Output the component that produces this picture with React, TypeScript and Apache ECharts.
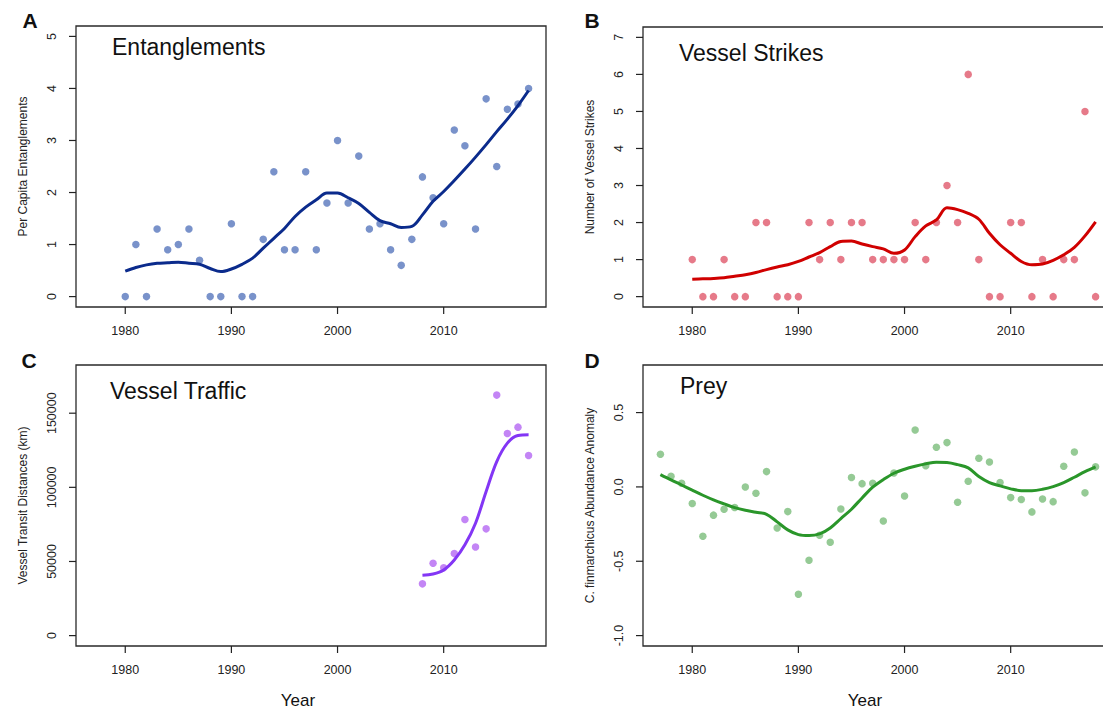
import React, { useEffect, useRef } from "react";
import * as echarts from "echarts";

// ---------- data ----------
const yearsMain = [1980, 1981, 1982, 1983, 1984, 1985, 1986, 1987, 1988, 1989, 1990, 1991, 1992, 1993, 1994, 1995, 1996, 1997, 1998, 1999, 2000, 2001, 2002, 2003, 2004, 2005, 2006, 2007, 2008, 2009, 2010, 2011, 2012, 2013, 2014, 2015, 2016, 2017, 2018];
const entanglements = [0, 1, 0, 1.3, 0.9, 1.0, 1.3, 0.7, 0, 0, 1.4, 0, 0, 1.1, 2.4, 0.9, 0.9, 2.4, 0.9, 1.8, 3.0, 1.8, 2.7, 1.3, 1.4, 0.9, 0.6, 1.1, 2.3, 1.9, 1.4, 3.2, 2.9, 1.3, 3.8, 2.5, 3.6, 3.7, 4.0];
const entanglementsTrend = [0.49, 0.56, 0.61, 0.64, 0.65, 0.66, 0.64, 0.62, 0.54, 0.48, 0.53, 0.62, 0.74, 0.93, 1.12, 1.31, 1.54, 1.72, 1.86, 1.99, 1.99, 1.9, 1.79, 1.62, 1.46, 1.4, 1.33, 1.35, 1.57, 1.83, 2.02, 2.23, 2.45, 2.68, 2.92, 3.17, 3.41, 3.67, 3.96];
const strikes = [1, 0, 0, 1, 0, 0, 2, 2, 0, 0, 0, 2, 1, 2, 1, 2, 2, 1, 1, 1, 1, 2, 1, 2, 3, 2, 6, 1, 0, 0, 2, 2, 0, 1, 0, 1, 1, 5, 0];
const strikesTrend = [0.47, 0.48, 0.49, 0.51, 0.55, 0.59, 0.65, 0.73, 0.8, 0.86, 0.95, 1.07, 1.19, 1.35, 1.49, 1.5, 1.42, 1.35, 1.29, 1.17, 1.26, 1.62, 1.91, 2.07, 2.4, 2.35, 2.25, 2.09, 1.71, 1.4, 1.17, 0.95, 0.86, 0.88, 0.98, 1.13, 1.33, 1.64, 2.02];

const yearsTraffic = [2008, 2009, 2010, 2011, 2012, 2013, 2014, 2015, 2016, 2017, 2018];
const traffic = [34900, 48800, 45700, 55300, 78300, 59800, 72000, 162200, 136300, 140600, 121500];
const trafficTrend = [40700, 41600, 44300, 51000, 61200, 75800, 97200, 117400, 129800, 134900, 135400];

const yearsPrey = [1977, 1978, 1979, 1980, 1981, 1982, 1983, 1984, 1985, 1986, 1987, 1988, 1989, 1990, 1991, 1992, 1993, 1994, 1995, 1996, 1997, 1998, 1999, 2000, 2001, 2002, 2003, 2004, 2005, 2006, 2007, 2008, 2009, 2010, 2011, 2012, 2013, 2014, 2015, 2016, 2017, 2018];
const prey = [0.22, 0.072, 0.025, -0.112, -0.332, -0.19, -0.15, -0.139, 0.0, -0.043, 0.103, -0.276, -0.166, -0.722, -0.493, -0.325, -0.372, -0.148, 0.063, 0.022, 0.025, -0.229, 0.094, -0.061, 0.383, 0.143, 0.267, 0.298, -0.103, 0.038, 0.193, 0.168, 0.029, -0.072, -0.085, -0.168, -0.081, -0.099, 0.139, 0.235, -0.04, 0.135];
const preyTrend = [0.083, 0.047, 0.013, -0.022, -0.056, -0.087, -0.114, -0.139, -0.157, -0.17, -0.184, -0.235, -0.289, -0.321, -0.327, -0.316, -0.276, -0.213, -0.15, -0.074, -0.002, 0.049, 0.092, 0.119, 0.139, 0.155, 0.166, 0.164, 0.15, 0.128, 0.07, 0.029, 0.007, -0.013, -0.025, -0.025, -0.016, 0.002, 0.029, 0.065, 0.103, 0.135];

const xTicks = [1980, 1990, 2000, 2010];
const yTicksA = [0, 1, 2, 3, 4, 5];
const yTicksB = [0, 1, 2, 3, 4, 5, 6, 7];
const yTicksC = [0, 50000, 100000, 150000];
const yTicksD = [-1.0, -0.5, 0.0, 0.5];

const panelTitles = ["Entanglements", "Vessel Strikes", "Vessel Traffic", "Prey"];
const panelLetters = ["A", "B", "C", "D"];
const yNames = ["Per Capita Entanglements", "Number of Vessel Strikes", "Vessel Transit Distances (km)", "C. finmarchicus Abundance Anomaly"];

const pointColors = ["#5877bd", "#e0596b", "#b466f3", "#7bbd7b"];
const lineColors = ["#0b2b8c", "#d00000", "#8336f5", "#2a962a"];

const FONT = '"Liberation Sans", Arial, Helvetica, sans-serif';
const X_MIN = 1975.36;
const X_MAX = 2019.64;

function pairs(xs: number[], ys: number[]) {
  return xs.map((x, i) => [x, ys[i]]);
}

export default function App() {
  const ref = useRef<HTMLDivElement>(null);

  useEffect(() => {
    if (!ref.current) return;
    const chart = echarts.init(ref.current, undefined, { renderer: "svg" });

    const grids = [
      { left: 76, top: 26, width: 470, height: 281 },
      { left: 643, top: 27, width: 470, height: 280 },
      { left: 76, top: 365, width: 470, height: 281 },
      { left: 643, top: 365, width: 470, height: 281 },
    ].map((g) => ({
      ...g,
      show: true,
      borderColor: "#2a2a2a",
      borderWidth: 1.3,
      backgroundColor: "transparent",
      containLabel: false,
      outerBoundsMode: "none",
    }));

    const yRanges = [
      { min: -0.2, max: 5.2, ticks: yTicksA, fmt: (v: number) => String(v) },
      { min: -0.28, max: 7.28, ticks: yTicksB, fmt: (v: number) => String(v) },
      { min: -7000, max: 182500, ticks: yTicksC, fmt: (v: number) => String(v) },
      { min: -1.07, max: 0.82, ticks: yTicksD, fmt: (v: number) => v.toFixed(1) },
    ];

    const xAxis = [0, 1, 2, 3].map((i) => ({
      type: "value",
      gridIndex: i,
      position: "bottom",
      min: X_MIN,
      max: X_MAX,
      splitLine: { show: false },
      axisLine: { show: false, onZero: false },
      axisTick: { show: false },
      axisLabel: {
        customValues: xTicks.slice(),
        formatter: (v: number) => String(v),
        fontSize: 12.5,
        color: "#222",
        margin: 17,
        fontFamily: FONT,
      },
    }));

    const yAxis = [0, 1, 2, 3].map((i) => {
      const r = yRanges[i];
      return {
        type: "value",
        gridIndex: i,
        position: "left",
        min: r.min,
        max: r.max,
        splitLine: { show: false },
        axisLine: { show: false, onZero: false },
        axisTick: { show: false },
        axisLabel: {
          customValues: r.ticks.slice(),
          formatter: r.fmt,
          rotate: 90,
          align: "center",
          verticalAlign: "middle",
          fontSize: 12.5,
          color: "#222",
          margin: 24,
          fontFamily: FONT,
        },
        name: yNames[i],
        nameLocation: "middle",
        nameRotate: 90,
        nameGap: 47,
        nameMoveOverlap: false,
        nameTextStyle: { fontSize: 12, color: "#222", fontFamily: FONT },
      };
    });

    const scatterData = [
      pairs(yearsMain, entanglements),
      pairs(yearsMain, strikes),
      pairs(yearsTraffic, traffic),
      pairs(yearsPrey, prey),
    ];
    const trendData = [
      pairs(yearsMain, entanglementsTrend),
      pairs(yearsMain, strikesTrend),
      pairs(yearsTraffic, trafficTrend),
      pairs(yearsPrey, preyTrend),
    ];

    const series: any[] = [];
    for (let i = 0; i < 4; i++) {
      series.push({
        type: "scatter",
        xAxisIndex: i,
        yAxisIndex: i,
        data: scatterData[i],
        symbolSize: 7.5,
        itemStyle: { color: pointColors[i] },
        z: 2,
      });
      series.push({
        type: "line",
        xAxisIndex: i,
        yAxisIndex: i,
        data: trendData[i],
        smooth: 0.35,
        symbol: "none",
        lineStyle: { color: lineColors[i], width: 3 },
        z: 3,
      });
    }

    const titlePos = [
      { x: 112, y: 47 },
      { x: 679, y: 52.5 },
      { x: 110, y: 391 },
      { x: 680, y: 386 },
    ];
    const letterPos = [
      { x: 30, y: 20 },
      { x: 592, y: 20 },
      { x: 29, y: 360 },
      { x: 592, y: 360 },
    ];

    const graphic: any[] = [];
    for (let i = 0; i < 4; i++) {
      graphic.push({
        type: "text",
        x: titlePos[i].x,
        y: titlePos[i].y,
        style: {
          text: panelTitles[i],
          fontSize: 23,
          fontFamily: FONT,
          fill: "#111",
          align: "left",
          verticalAlign: "middle",
        },
      });
      graphic.push({
        type: "text",
        x: letterPos[i].x,
        y: letterPos[i].y,
        style: {
          text: panelLetters[i],
          fontSize: 21,
          fontWeight: "bold",
          fontFamily: FONT,
          fill: "#111",
          align: "center",
          verticalAlign: "middle",
        },
      });
    }
    graphic.push({
      type: "text",
      x: 298,
      y: 700,
      style: { text: "Year", fontSize: 17, fontFamily: FONT, fill: "#111", align: "center", verticalAlign: "middle" },
    });
    graphic.push({
      type: "text",
      x: 865,
      y: 700,
      style: { text: "Year", fontSize: 17, fontFamily: FONT, fill: "#111", align: "center", verticalAlign: "middle" },
    });

    chart.setOption({
      animation: false,
      backgroundColor: "#ffffff",
      textStyle: { fontFamily: FONT },
      grid: grids,
      xAxis,
      yAxis,
      series,
    });

    // tick marks positioned through the chart's own scales
    const tickEls: any[] = [];
    for (let i = 0; i < 4; i++) {
      const r = yRanges[i];
      xTicks.forEach((v) => {
        const p: any = chart.convertToPixel({ gridIndex: i } as any, [v, r.min]);
        if (p && isFinite(p[0]) && isFinite(p[1])) {
          tickEls.push({
            type: "line",
            silent: true,
            shape: { x1: p[0], y1: p[1], x2: p[0], y2: p[1] + 7 },
            style: { stroke: "#222222", lineWidth: 1.2 },
          });
        }
      });
      r.ticks.forEach((v) => {
        const p: any = chart.convertToPixel({ gridIndex: i } as any, [X_MIN, v]);
        if (p && isFinite(p[0]) && isFinite(p[1])) {
          tickEls.push({
            type: "line",
            silent: true,
            shape: { x1: p[0], y1: p[1], x2: p[0] - 7, y2: p[1] },
            style: { stroke: "#222222", lineWidth: 1.2 },
          });
        }
      });
    }

    chart.setOption({ graphic: graphic.concat(tickEls) });

    return () => chart.dispose();
  }, []);

  return (
    <div
      ref={ref}
      style={{ position: "absolute", left: 0, top: 0, width: 1103, height: 709 }}
    />
  );
}
